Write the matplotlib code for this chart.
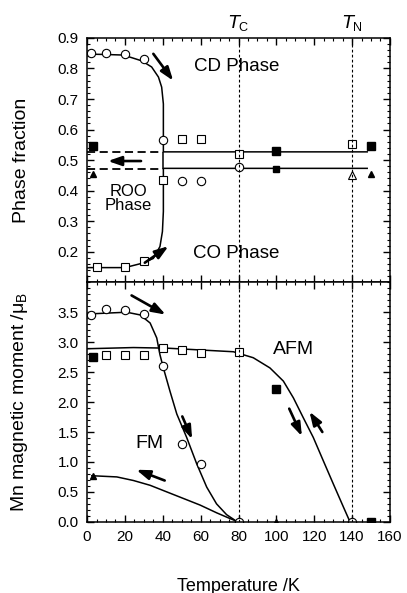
import numpy as np
import matplotlib
matplotlib.use('Agg')
import matplotlib.pyplot as plt
from matplotlib.ticker import MultipleLocator, FormatStrFormatter

plt.rcParams['font.family'] = ['Liberation Sans', 'DejaVu Sans']
plt.rcParams['mathtext.default'] = 'regular'

# ---- upper panel: phase fractions ----
cd_T = [2, 10, 20, 30, 40]
cd_frac = [0.85, 0.85, 0.847, 0.83, 0.565]
co_T = [5, 20, 30, 40]
co_frac = [0.15, 0.15, 0.17, 0.435]

sq_open_T = [50, 60, 80, 140]
sq_open_frac = [0.57, 0.57, 0.52, 0.553]
ci_open_T = [50, 60, 80]
ci_open_frac = [0.43, 0.43, 0.478]
tri_open_T = [140]
tri_open_frac = [0.45]
sq_fill_T = [3, 100, 150]
sq_fill_frac = [0.545, 0.53, 0.547]
sq_small_T = [100]
sq_small_frac = [0.47]
tri_fill_T = [3, 150]
tri_fill_frac = [0.455, 0.455]

# fitted curves
cd_curve_T = [0, 9, 19.2, 28.9, 34.1, 37.7, 39.4, 40.3, 40.3, 40.3, 148]
cd_curve_frac = [0.847, 0.846, 0.844, 0.825, 0.805, 0.772, 0.739, 0.684, 0.563, 0.527, 0.527]
co_curve_T = [0, 20, 28.9, 35, 38.5, 39.8, 40.3, 40.3, 40.3, 148]
co_curve_frac = [0.148, 0.148, 0.162, 0.178, 0.217, 0.266, 0.332, 0.453, 0.473, 0.473]
roo_T = [0, 40]
roo_upper = [0.525, 0.525]
roo_lower = [0.472, 0.472]

# ---- lower panel: magnetic moments ----
fm_T = [2, 10, 20, 30, 40, 50, 60, 80, 140]
fm_mom = [3.45, 3.55, 3.53, 3.47, 2.6, 1.3, 0.97, 0.0, 0.0]
afm_T = [10, 20, 30, 40, 50, 60, 80]
afm_mom = [2.78, 2.78, 2.78, 2.9, 2.87, 2.82, 2.84]
afm_fill_T = [3, 100, 150]
afm_fill_mom = [2.75, 2.22, 0.0]
tri_T = [3, 100]
tri_mom = [0.77, 0.0]

fm_curve_T = [0, 20.9, 28, 33.3, 36.8, 38.5, 40.3, 43.8, 47.4, 52.6, 57.9, 63.2, 68.4, 73.7, 77.5, 79]
fm_curve_mom = [3.47, 3.50, 3.455, 3.32, 3.07, 2.79, 2.57, 2.18, 1.80, 1.41, 0.97, 0.58, 0.30, 0.12, 0.04, 0.0]
afm_curve_T = [0, 24.5, 42.1, 59.7, 77.3, 87.8, 96.6, 103.7, 109, 114.2, 119.5, 124.8, 130, 135.4, 138.9]
afm_curve_mom = [2.89, 2.91, 2.90, 2.87, 2.84, 2.74, 2.57, 2.35, 2.07, 1.74, 1.41, 1.02, 0.64, 0.25, 0.0]
tri_curve_T = [2.5, 15.7, 24.5, 33.3, 42.1, 50.9, 59.7, 68.5, 75.5, 79.9]
tri_curve_mom = [0.77, 0.75, 0.69, 0.61, 0.50, 0.39, 0.28, 0.15, 0.055, 0.0]

T_C = 80
T_N = 140

fig = plt.figure(figsize=(4.07, 5.93), dpi=100)
ax1 = fig.add_axes([0.214, 0.524, 0.744, 0.412])
ax2 = fig.add_axes([0.214, 0.120, 0.744, 0.404])

ms = 6
mk = dict(mfc='white', mec='black', mew=0.8, ls='none', ms=ms)
mkf = dict(color='black', ls='none', ms=ms)
arrow = dict(arrowstyle='-|>,head_length=0.8,head_width=0.28', color='black',
             lw=1.9, shrinkA=0, shrinkB=0)

# upper panel
ax1.plot(cd_curve_T, cd_curve_frac, color='black', lw=1.1)
ax1.plot(co_curve_T, co_curve_frac, color='black', lw=1.1)
ax1.vlines(cd_curve_T[-2], roo_lower[0], roo_upper[0], color='black', lw=1.1)
ax1.plot(roo_T, roo_upper, color='black', lw=1.3, ls=(0, (4.5, 2.5)))
ax1.plot(roo_T, roo_lower, color='black', lw=1.3, ls=(0, (4.5, 2.5)))
ax1.plot(cd_T, cd_frac, marker='o', **mk)
ax1.plot(co_T, co_frac, marker='s', **mk)
ax1.plot(sq_open_T, sq_open_frac, marker='s', **mk)
ax1.plot(ci_open_T, ci_open_frac, marker='o', **mk)
ax1.plot(tri_open_T, tri_open_frac, marker='^', **mk)
ax1.plot(sq_fill_T, sq_fill_frac, marker='s', **mkf)
ax1.plot(sq_small_T, sq_small_frac, marker='s', color='black', ls='none', ms=4.5)
ax1.plot(tri_fill_T, tri_fill_frac, marker='^', color='black', ls='none', ms=4.5)

ax1.annotate('', xy=(45.5, 0.76), xytext=(35, 0.848), arrowprops=arrow)
ax1.annotate('', xy=(43, 0.218), xytext=(30.5, 0.164), arrowprops=arrow)
ax1.annotate('', xy=(11, 0.497), xytext=(28.5, 0.497), arrowprops=arrow)

ax1.text(79, 0.805, 'CD Phase', ha='center', va='center', fontsize=13.5)
ax1.text(79, 0.195, 'CO Phase', ha='center', va='center', fontsize=13.5)
ax1.text(22, 0.375, 'ROO\nPhase', ha='center', va='center', fontsize=12, linespacing=0.95)

ax1.set_ylim(0.1, 0.9)
ax1.set_yticks(np.arange(0.2, 0.95, 0.1))
ax1.yaxis.set_major_formatter(FormatStrFormatter('%.1f'))
ax1.yaxis.set_minor_locator(MultipleLocator(0.02))
ax1.set_ylabel('Phase fraction', fontsize=14)
ax1.yaxis.set_label_coords(-0.19, 0.5)
ax1.tick_params(labelbottom=False)

# lower panel
ax2.plot(fm_curve_T, fm_curve_mom, color='black', lw=1.1)
ax2.plot(afm_curve_T, afm_curve_mom, color='black', lw=1.1)
ax2.plot(tri_curve_T, tri_curve_mom, color='black', lw=1.1)
ax2.plot(afm_T, afm_mom, marker='s', **mk)
ax2.plot(fm_T, fm_mom, marker='o', **mk)
ax2.plot(afm_fill_T, afm_fill_mom, marker='s', **mkf)
ax2.plot(tri_T, tri_mom, marker='^', color='black', ls='none', ms=4.5)

ax2.annotate('', xy=(41.5, 3.46), xytext=(23.5, 3.78), arrowprops=arrow)
ax2.annotate('', xy=(55.5, 1.38), xytext=(50.3, 1.76), arrowprops=arrow)
ax2.annotate('', xy=(26, 0.87), xytext=(41, 0.69), arrowprops=arrow)
ax2.annotate('', xy=(113.5, 1.43), xytext=(106.8, 1.89), arrowprops=arrow)
ax2.annotate('', xy=(117.5, 1.84), xytext=(124.3, 1.50), arrowprops=arrow)

ax2.text(109, 2.88, 'AFM', ha='center', va='center', fontsize=14)
ax2.text(33, 1.31, 'FM', ha='center', va='center', fontsize=14)

ax2.set_ylim(0, 4.0)
ax2.set_yticks(np.arange(0, 3.75, 0.5))
ax2.yaxis.set_major_formatter(FormatStrFormatter('%.1f'))
ax2.yaxis.set_minor_locator(MultipleLocator(0.1))
ax2.set_ylabel('Mn magnetic moment /$\\mu_B$', fontsize=14)
ax2.yaxis.set_label_coords(-0.19, 0.5)
ax2.set_xlabel('Temperature /K', fontsize=13, labelpad=24)

for ax in (ax1, ax2):
    ax.set_xlim(0, 160)
    ax.set_xticks(np.arange(0, 161, 20))
    ax.xaxis.set_minor_locator(MultipleLocator(5))
    ax.tick_params(which='both', direction='in', top=True, right=True, labelsize=11)
    ax.tick_params(which='major', length=5, width=1, pad=6)
    ax.tick_params(which='minor', length=2.5, width=0.8)
    for t in (T_C, T_N):
        ax.axvline(t, color='black', lw=0.8, ls=(0, (2.5, 2)))
    for s in ax.spines.values():
        s.set_linewidth(1.1)

ax1.text(T_C, 1.062, '$\\mathit{T}_C$', transform=ax1.get_xaxis_transform(),
         ha='center', va='center', fontsize=13)
ax1.text(T_N, 1.062, '$\\mathit{T}_N$', transform=ax1.get_xaxis_transform(),
         ha='center', va='center', fontsize=13)

plt.savefig('out.png', dpi=100)
